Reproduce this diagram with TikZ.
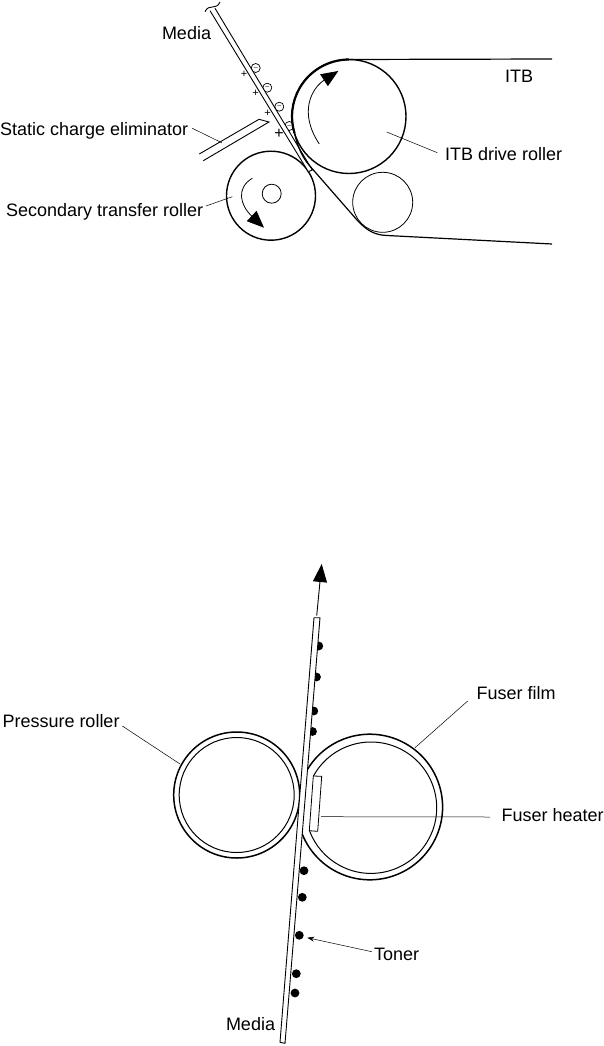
\documentclass[tikz,border=0pt]{standalone}
\usepackage{fontspec}
\setmainfont{Liberation Sans}
\usetikzlibrary{arrows.meta}

\begin{document}
\begin{tikzpicture}[x=1pt, y=1pt,
    lbl/.style={font=\fontsize{18}{20}\selectfont, inner sep=0pt, outer sep=0pt, anchor=base west},
    roller/.style={circle, draw, fill=white, inner sep=0pt, outer sep=0pt, line width=1.4pt},
    thinroller/.style={roller, line width=0.8pt},
    media/.style={draw, fill=white, line width=0.9pt, line join=miter},
    leader/.style={line width=0.5pt},
    turn/.style={line width=0.8pt, -{Triangle[length=17pt, width=14pt]}},
    plus/.style={font=\fontsize{11}{12}\selectfont, inner sep=0pt},
    minus/.style={circle, draw, fill=white, line width=0.7pt, minimum size=9pt, inner sep=0pt, font=\fontsize{7}{8}\selectfont},
    toner/.style={circle, fill=black, minimum size=8.8pt, inner sep=0pt}]
    \useasboundingbox (0,-1046) rectangle (604,0);

    % Transfer section - rollers
    \node[roller, minimum size=89pt] (secondary) at (271,-195.7) {};
    \node[thinroller, minimum size=19pt] (hub) at (271.7,-193.7) {};
    \node[thinroller, minimum size=60pt] (idler) at (382.7,-202.3) {};

    % Charges on the media
    \node[minus] (m1) at (255.7,-68) {–};
    \node[minus] (m2) at (267.3,-87.7) {–};
    \node[minus] (m3) at (279.3,-106.7) {–};
    \node[minus] (m4) at (289.3,-126) {–};
    \node[plus] (p1) at (244,-74.3) {+};
    \node[plus] (p2) at (255.7,-93.7) {+};
    \node[plus] (p3) at (267.7,-113) {+};
    \node[plus, font=\fontsize{16}{16}\selectfont] (p4) at (279,-134) {+};

    \node[roller, minimum size=114pt] (drive) at (349,-116.5) {};

    % Media strip and eliminator
    \draw[media] (210,-10.7) -- (308.3,-171.7) -- (312.3,-170) -- (215,-8.3);
    \draw[line width=0.9pt] (205,-11.7) .. controls (209,-3) and (216,-11) .. (220,-2);
    \draw[line width=0.9pt] (199.3,-154) -- (259,-119.3) -- (269,-122) -- (203.3,-160.7);

    % Belt
    \draw[line width=1.2pt] (drive.north) -- (552,-59);
    \draw[line width=2.2pt] (drive.north) arc[start angle=90, end angle=197, radius=57];
    \coordinate (beltleft) at (294.5,-133);
    \draw[line width=1.2pt] (beltleft) .. controls (297,-145) and (302,-157) .. (309,-165)
        -- (357,-220) .. controls (368,-232) and (376,-235) .. (387,-235.5) -- (552,-244);

    % Rotation arrows
    \draw[turn] (319.3,-144) .. controls (298,-112) and (312,-88) .. (338.3,-71);
    \draw[turn] (252.3,-178.3) .. controls (236,-188) and (240,-205) .. (264,-227.7);

    % Transfer section - labels
    \node[lbl] (medialabel) at (162,-40) {Media};
    \node[lbl] (itblabel) at (505,-82.7) {ITB};
    \node[lbl] (staticlabel) at (0,-135.7) {Static charge eliminator};
    \node[lbl] (drivelabel) at (445,-160.7) {ITB drive roller};
    \node[lbl] (secondarylabel) at (6,-216.7) {Secondary transfer roller};
    \coordinate (staticstart) at (192.3,-128.3);
    \coordinate (staticend) at (221.7,-142.7);
    \coordinate (drivestart) at (437.3,-152.7);
    \coordinate (driveend) at (386.7,-132);
    \coordinate (secondarystart) at (206,-206);
    \coordinate (secondaryend) at (232.3,-196.7);
    \draw[leader] (staticstart) -- (staticend);
    \draw[leader] (drivestart) -- (driveend);
    \draw[leader] (secondarystart) -- (secondaryend);

    % Fuser section - toner under the strip
    \foreach \i/\tx/\ty in {1/318.8/646, 2/316.5/677, 3/313.8/711, 4/312.5/731.5,
        5/304/870.7, 6/302.3/897.3, 7/299.3/935.3, 8/296.3/973.7, 9/295/993}
        \node[toner] (toner\i) at (\tx,-\ty) {};

    % Fuser section - rollers
    \node[roller, minimum size=126pt, line width=1.5pt] (pressure) at (236.7,-795) {};
    \node[thinroller, minimum size=115pt, line width=1pt] (pressurecore) at (236.7,-795) {};
    \coordinate (filmouter) at (369.8,-807);
    \coordinate (filminner) at (371,-807.7);
    \draw[line width=1.5pt] ([shift={(150.4:72.8)}]filmouter)
        arc[start angle=150.4, end angle=-160, radius=72.8] -- cycle;
    \draw[line width=1pt] ([shift={(151.2:65.7)}]filminner)
        arc[start angle=151.2, end angle=-159.4, radius=65.7];
    \draw[line width=0.8pt, fill=white] (313.3,-776) -- (321.7,-776.3) -- (317.7,-831.3) -- (309.3,-830.7) -- cycle;

    % Media strip and direction
    \draw[media] (314,-617.7) -- (320,-617.7) -- (285,-1043.3) -- (280,-1042.3) -- cycle;
    \draw[line width=0.9pt, -{Triangle[length=18pt, width=14pt]}] (316.7,-615.7) -- (321.7,-564);

    % Fuser section - labels
    \node[lbl] (filmlabel) at (476.7,-699) {Fuser film};
    \node[lbl] (pressurelabel) at (2.5,-727.3) {Pressure roller};
    \node[lbl] (heaterlabel) at (501.7,-821.7) {Fuser heater};
    \node[lbl] (tonerlabel) at (374,-960) {Toner};
    \node[lbl] (medialower) at (226,-1030) {Media};
    \coordinate (filmstart) at (467.7,-701);
    \coordinate (filmend) at (415,-747.7);
    \coordinate (pressurestart) at (122.3,-726);
    \coordinate (pressureend) at (180,-764);
    \coordinate (heaterstart) at (490,-817);
    \coordinate (heaterend) at (321,-816.7);
    \coordinate (tonerstart) at (371.7,-951.7);
    \coordinate (tonerend) at (307.3,-937.7);
    \draw[leader] (filmstart) -- (filmend);
    \draw[leader] (pressurestart) -- (pressureend);
    \draw[leader] (heaterstart) -- (heaterend);
    \draw[leader, -{Stealth[length=7pt, width=5pt]}] (tonerstart) -- (tonerend);
\end{tikzpicture}
\end{document}
